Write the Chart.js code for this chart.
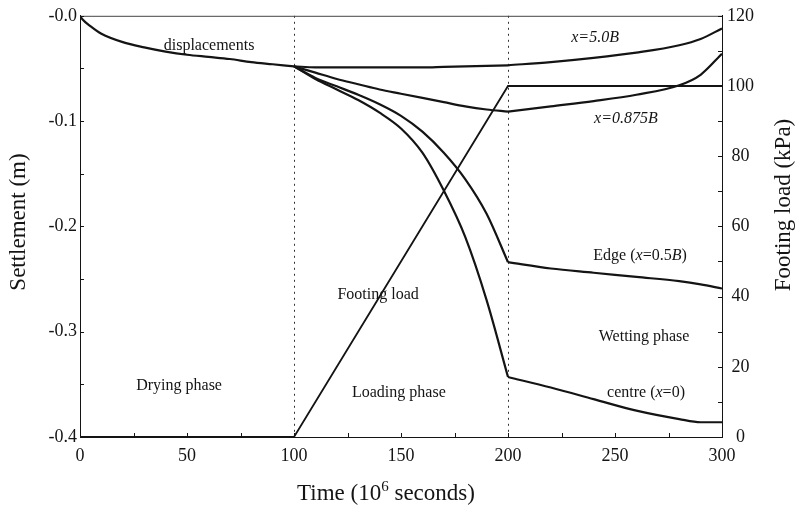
<!DOCTYPE html>
<html>
<head>
<meta charset="utf-8">
<script src="https://cdn.jsdelivr.net/npm/chart.js@4.4.1/dist/chart.umd.min.js"></script>
<style>
  html, body { margin: 0; padding: 0; background: #fff; }
  #wrap { width: 802px; height: 513px; position: relative; }
</style>
</head>
<body>
<div id="wrap"><canvas id="settleChart"></canvas></div>
<script>
// Drying phase: all points move together (time in 10^6 s, settlement in m)
const dryTime = [0, 1, 5, 10, 20, 30, 40, 50, 60, 70, 80, 90, 100];
const drySettle = [0, -0.003, -0.010, -0.017, -0.025, -0.030, -0.034, -0.037, -0.039, -0.041, -0.044, -0.046, -0.048];

// Loading and wetting phase time samples
const loadTime = [100, 110, 120, 130, 140, 150, 160, 170, 180, 190, 200];
const wetTime = [200, 220, 240, 260, 280, 290, 300];

// x = 5.0B
const far5Load = [-0.048, -0.049, -0.049, -0.049, -0.049, -0.049, -0.049, -0.0485, -0.048, -0.0475, -0.047];
const far5Wet = [-0.047, -0.044, -0.040, -0.035, -0.028, -0.022, -0.012];
// x = 0.875B
const mid875Load = [-0.048, -0.054, -0.060, -0.065, -0.070, -0.074, -0.078, -0.082, -0.086, -0.089, -0.091];
const mid875Wet = [-0.091, -0.086, -0.081, -0.075, -0.066, -0.056, -0.036];
// Edge x = 0.5B
const edgeLoad = [-0.048, -0.059, -0.067, -0.075, -0.084, -0.095, -0.110, -0.130, -0.155, -0.188, -0.234];
const edgeWet = [-0.234, -0.240, -0.244, -0.248, -0.252, -0.255, -0.259];
// centre x = 0
const centreLoad = [-0.048, -0.060, -0.070, -0.080, -0.092, -0.107, -0.130, -0.166, -0.210, -0.270, -0.343];
const centreWet = [-0.343, -0.353, -0.364, -0.375, -0.383, -0.386, -0.386];

// Footing load (kPa)
const footingTime = [0, 100, 200, 300];
const footingKPa = [0, 0, 100, 100];

// Axis ticks
const timeTicks = [0, 50, 100, 150, 200, 250, 300];
const settleTicks = [-0.4, -0.3, -0.2, -0.1, 0];
const loadTicks = [0, 20, 40, 60, 80, 100, 120];
const phaseLines = [100, 200];

const serif = '"Liberation Serif", "DejaVu Serif", serif';
const ink = '#141414';

function pts(ts, vs) {
    return ts.map(function(t, i) { return { x: t, y: vs[i] }; });
}

function curve(ts, vs) {
    return {
        data: pts(ts, vs),
        yAxisID: 'y',
        borderColor: ink,
        borderWidth: 2.2,
        pointRadius: 0,
        cubicInterpolationMode: 'monotone',
        fill: false
    };
}

// text labels placed in data coordinates (time, settlement); [text, italic]
const notes = [
    { t: 60.3, s: -0.0284, parts: [['displacements', 0]] },
    { t: 240.7, s: -0.0209, parts: [['x=5.0B', 1]] },
    { t: 255.1, s: -0.0976, parts: [['x=0.875B', 1]] },
    { t: 261.7, s: -0.2275, parts: [['Edge (', 0], ['x', 1], ['=0.5', 0], ['B', 1], [')', 0]] },
    { t: 263.6, s: -0.305, parts: [['Wetting phase', 0]] },
    { t: 264.5, s: -0.358, parts: [['centre (', 0], ['x', 1], ['=0)', 0]] },
    { t: 139.3, s: -0.265, parts: [['Footing load', 0]] },
    { t: 149, s: -0.358, parts: [['Loading phase', 0]] },
    { t: 46.3, s: -0.351, parts: [['Drying phase', 0]] }
];

function drawRich(ctx, parts, cx, cy, size) {
    let total = 0;
    parts.forEach(function(p) {
        ctx.font = (p[1] ? 'italic ' : '') + size + 'px ' + serif;
        total += ctx.measureText(p[0]).width;
    });
    let x = cx - total / 2;
    ctx.textAlign = 'left';
    ctx.textBaseline = 'middle';
    parts.forEach(function(p) {
        ctx.font = (p[1] ? 'italic ' : '') + size + 'px ' + serif;
        ctx.fillText(p[0], x, cy);
        x += ctx.measureText(p[0]).width;
    });
}

const deco = {
    id: 'deco',
    beforeDatasetsDraw(chart) {
        const ctx = chart.ctx, a = chart.chartArea, xs = chart.scales.x;
        ctx.save();
        ctx.strokeStyle = '#333';
        ctx.lineWidth = 1;
        ctx.setLineDash([2, 4]);
        phaseLines.forEach(function(t) {
            const px = Math.round(xs.getPixelForValue(t)) + 0.5;
            ctx.beginPath();
            ctx.moveTo(px, a.top);
            ctx.lineTo(px, a.bottom);
            ctx.stroke();
        });
        ctx.restore();
    },
    afterDraw(chart) {
        const ctx = chart.ctx, a = chart.chartArea;
        const xs = chart.scales.x, ys = chart.scales.y, y2 = chart.scales.y2;
        ctx.save();
        ctx.strokeStyle = '#444';
        ctx.lineWidth = 1;
        // top frame line
        ctx.beginPath();
        ctx.moveTo(a.left, a.top + 0.5);
        ctx.lineTo(a.right, a.top + 0.5);
        ctx.stroke();

        // inward ticks
        ctx.strokeStyle = ink;
        for (let v = -0.4; v <= 0.0001; v += 0.05) {
            const py = Math.round(ys.getPixelForValue(v)) + 0.5;
            ctx.beginPath();
            ctx.moveTo(a.left, py);
            ctx.lineTo(a.left + 4, py);
            ctx.stroke();
        }
        for (let v = 0; v <= 120; v += 10) {
            const py = Math.round(y2.getPixelForValue(v)) + 0.5;
            ctx.beginPath();
            ctx.moveTo(a.right, py);
            ctx.lineTo(a.right - 4, py);
            ctx.stroke();
        }
        for (let v = 0; v <= 300; v += 25) {
            const px = Math.round(xs.getPixelForValue(v)) + 0.5;
            ctx.beginPath();
            ctx.moveTo(px, a.bottom);
            ctx.lineTo(px, a.bottom - 4);
            ctx.stroke();
        }

        // annotations
        ctx.fillStyle = ink;
        notes.forEach(function(n) {
            drawRich(ctx, n.parts, xs.getPixelForValue(n.t), ys.getPixelForValue(n.s), 16);
        });

        // axis titles
        ctx.font = '23px ' + serif;
        ctx.textAlign = 'center';
        ctx.textBaseline = 'middle';
        ctx.save();
        ctx.translate(19, 222);
        ctx.rotate(-Math.PI / 2);
        ctx.fillText('Settlement (m)', 0, 0);
        ctx.restore();
        ctx.save();
        ctx.translate(784, 205);
        ctx.rotate(-Math.PI / 2);
        ctx.fillText('Footing load (kPa)', 0, 0);
        ctx.restore();

        // bottom title with superscript
        const p1 = 'Time (10', p2 = '6', p3 = ' seconds)';
        ctx.font = '23px ' + serif;
        const w1 = ctx.measureText(p1).width, w3 = ctx.measureText(p3).width;
        ctx.font = '15px ' + serif;
        const w2 = ctx.measureText(p2).width;
        let x0 = 386 - (w1 + w2 + w3) / 2;
        ctx.textAlign = 'left';
        ctx.font = '23px ' + serif;
        ctx.fillText(p1, x0, 494);
        ctx.font = '15px ' + serif;
        ctx.fillText(p2, x0 + w1, 487);
        ctx.font = '23px ' + serif;
        ctx.fillText(p3, x0 + w1 + w2, 494);
        ctx.restore();
    }
};

const ctx = document.getElementById('settleChart').getContext('2d');
new Chart(ctx, {
    type: 'line',
    data: {
        datasets: [
            curve(dryTime, drySettle),
            curve(loadTime, far5Load), curve(wetTime, far5Wet),
            curve(loadTime, mid875Load), curve(wetTime, mid875Wet),
            curve(loadTime, edgeLoad), curve(wetTime, edgeWet),
            curve(loadTime, centreLoad), curve(wetTime, centreWet),
            {
                data: pts(footingTime, footingKPa),
                yAxisID: 'y2',
                borderColor: ink,
                borderWidth: 1.8,
                pointRadius: 0,
                tension: 0,
                fill: false
            }
        ]
    },
    options: {
        responsive: true,
        maintainAspectRatio: false,
        animation: false,
        layout: { padding: { top: 15, left: 0, right: 0, bottom: 0 } },
        plugins: { legend: { display: false }, tooltip: { enabled: false } },
        scales: {
            x: {
                type: 'linear',
                min: 0, max: 300,
                afterBuildTicks: function(s) { s.ticks = timeTicks.map(function(v) { return { value: v }; }); },
                afterFit: function(s) { s.height = 76; },
                grid: { display: false, drawTicks: false },
                border: { display: true, color: ink, width: 1 },
                ticks: { padding: 8, color: ink, maxRotation: 0, font: { family: serif, size: 18 } }
            },
            y: {
                position: 'left',
                min: -0.4, max: 0,
                afterBuildTicks: function(s) { s.ticks = settleTicks.map(function(v) { return { value: v }; }); },
                afterFit: function(s) { s.width = 80; },
                grid: { display: false, drawTicks: false },
                border: { display: true, color: ink, width: 1 },
                ticks: {
                    padding: 3, color: ink, font: { family: serif, size: 18 },
                    callback: function(v) { return Math.abs(v) < 1e-9 ? '-0.0' : v.toFixed(1); }
                }
            },
            y2: {
                position: 'right',
                min: 0, max: 120,
                afterBuildTicks: function(s) { s.ticks = loadTicks.map(function(v) { return { value: v }; }); },
                afterFit: function(s) { s.width = 80; },
                grid: { display: false, drawTicks: false },
                border: { display: true, color: ink, width: 1 },
                ticks: { padding: 5, color: ink, crossAlign: 'center', font: { family: serif, size: 18 } }
            }
        }
    },
    plugins: [deco]
});
</script>
</body>
</html>
